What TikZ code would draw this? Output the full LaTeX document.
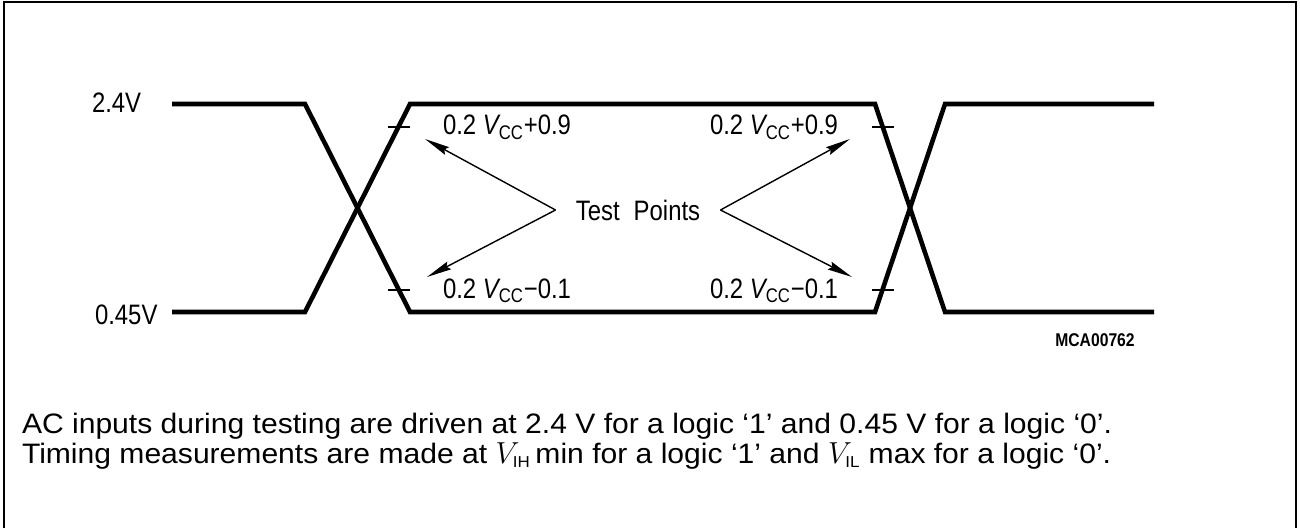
\documentclass[tikz,border=0pt]{standalone}
\usepackage{fontspec}
\setmainfont{Liberation Sans}
\newfontfamily\cadfont[FakeStretch=0.85]{Liberation Sans}
\newfontfamily\notefont[FakeStretch=1.07]{Liberation Sans}
\usetikzlibrary{arrows.meta}
\definecolor{waveInk}{HTML}{000000}
\tikzset{
  wave diagram/.style={
    x=0.02cm, y=0.02cm, line join=miter,
    every node/.style={inner sep=0pt, outer sep=0pt, text=waveInk}
  },
  wave frame/.style={draw=waveInk, line width=1.6pt},
  wave signal/.style={draw=waveInk, line width=2.6pt},
  wave tick/.style={draw=waveInk, line width=0.8pt},
  wave pointer/.style={draw=waveInk, line width=0.8pt,
    -{Stealth[length=0.5cm,width=0.17cm,inset=0.06cm]}},
  wave label/.style={font=\cadfont\fontsize{16}{19}\selectfont},
  wave code/.style={font=\cadfont\bfseries\fontsize{10.5}{12}\selectfont},
  wave note/.style={font=\notefont\fontsize{16}{19}\selectfont}
}
\newcommand{\WaveTick}[2]{%
  \draw[wave tick] (#1-11,#2) -- (#1+11,#2);
}

\begin{document}
\begin{tikzpicture}[wave diagram]
    \useasboundingbox (0,0) rectangle (1300,528);
    \draw[wave frame] (4,0) -- (4,526) -- (1296,526) -- (1296,0);
    \node[wave label,anchor=base west] (high) at (92,415) {2.4V};
    \node[wave label,anchor=base west] (low) at (95,204) {0.45V};
    \draw[wave signal] (172,424) -- (305,424) -- (410,216) -- (875,216)
      -- (945,424) -- (1154,424);
    \draw[wave signal] (172,216) -- (305,216) -- (410,424) -- (875,424)
      -- (945,216) -- (1154,216);
    \WaveTick{399}{401}
    \WaveTick{399}{238}
    \WaveTick{883}{401}
    \WaveTick{883}{238}
    \node[wave label,anchor=base west] (vihL) at (443,393)
      {0.2\ {\itshape V}\textsubscript{CC}+0.9};
    \node[wave label,anchor=base west] (vilL) at (443,230)
      {0.2\ {\itshape V}\textsubscript{CC}−0.1};
    \node[wave label,anchor=base west] (vihR) at (710,393)
      {0.2\ {\itshape V}\textsubscript{CC}+0.9};
    \node[wave label,anchor=base west] (vilR) at (710,230)
      {0.2\ {\itshape V}\textsubscript{CC}−0.1};
    \node[wave label,minimum width=3.3cm] (tp) at (638,318)
      {Test\hspace{0.5em}Points};
    \coordinate (ptUL) at (425,389);
    \coordinate (ptLL) at (427,251);
    \coordinate (ptUR) at (850,389);
    \coordinate (ptLR) at (852,251);
    \draw[wave pointer] (tp.west) -- (ptUL);
    \draw[wave pointer] (tp.west) -- (ptLL);
    \draw[wave pointer] (tp.east) -- (ptUR);
    \draw[wave pointer] (tp.east) -- (ptLR);
    \node[wave code] (code) at (1095,188) {MCA00762};
    \node[wave note,anchor=base west] (note1) at (22,95)
      {AC inputs during testing are driven at 2.4 V for a logic ‘1’ and 0.45 V for a logic ‘0’.};
    \node[wave note,anchor=base west] (note2) at (22,65)
      {Timing measurements are made at $V_{\hbox{\notefont\fontsize{9}{10}\selectfont IH}}$\,min
       for a logic ‘1’ and $V_{\hbox{\notefont\fontsize{9}{10}\selectfont IL}}$ max for a logic ‘0’.};
  \end{tikzpicture}
\end{document}
